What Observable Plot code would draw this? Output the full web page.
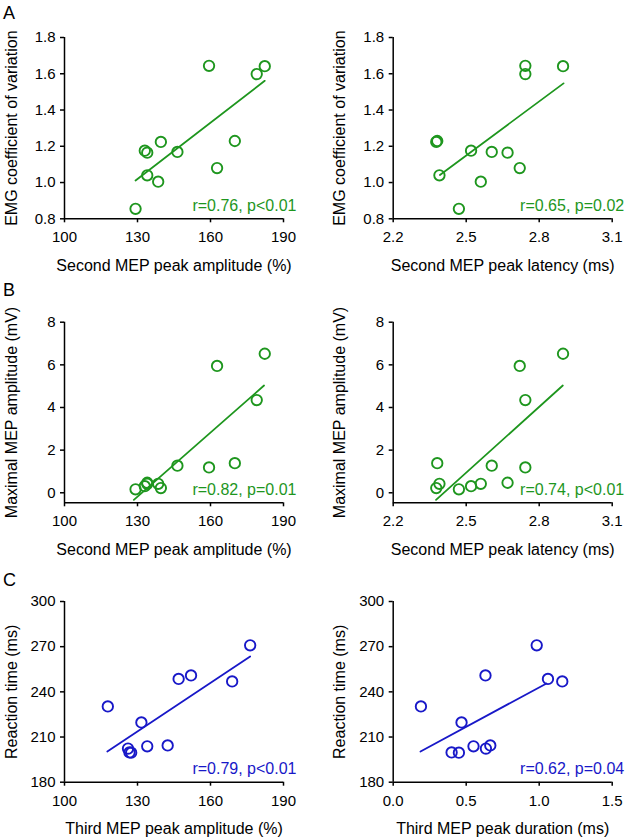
<!DOCTYPE html>
<html>
<head>
<meta charset="utf-8">
<script src="https://cdn.jsdelivr.net/npm/d3@7"></script>
<script src="https://cdn.jsdelivr.net/npm/@observablehq/plot@0.6"></script>
<style>
  html, body { margin: 0; padding: 0; background: #fff; }
  #fig { position: relative; width: 625px; height: 837px; overflow: hidden; font-family: "Liberation Sans", Arial, sans-serif; }
  #fig > svg { position: absolute; }
  .lbl { position: absolute; font-size: 18px; line-height: 18px; color: #000; }
</style>
</head>
<body>
<div id="fig"></div>
<script>
// ---- Data: 12 subjects (panels A, B) ----
const amp2   = [129.2, 134, 138.5, 133, 134, 139.6, 146.4, 159.4, 162.7, 170, 179, 182.3]; // Second MEP peak amplitude (%)
const lat2   = [2.47, 2.39, 2.56, 2.52, 2.67, 2.377, 2.605, 2.743, 2.72, 2.381, 2.743, 2.898]; // Second MEP peak latency (ms)
const emgCV  = [0.855, 1.04, 1.005, 1.176, 1.165, 1.224, 1.169, 1.644, 1.08, 1.229, 1.598, 1.642]; // EMG coefficient of variation
const maxMEP = [0.16, 0.42, 0.42, 0.31, 0.47, 0.22, 1.27, 1.19, 5.95, 1.39, 4.35, 6.52]; // Maximal MEP amplitude (mV)

// ---- Data: 11 subjects (panel C) ----
const amp3 = [117.8, 126.1, 126.7, 127.4, 131.6, 134, 142.4, 146.9, 152, 168.9, 176.3]; // Third MEP peak amplitude (%)
const dur3 = [0.19, 0.635, 0.40, 0.45, 0.468, 0.55, 0.665, 1.06, 0.632, 1.158, 0.983]; // Third MEP peak duration (ms)
const rt   = [230.3, 202.3, 199.8, 199.6, 219.7, 203.8, 204.4, 248.6, 250.9, 246.9, 270.9]; // Reaction time (ms)

// ---- Regression lines (endpoints) ----
const fitA1 = {x: [129.2, 182.3], y: [1.011, 1.561]};
const fitA2 = {x: [2.392, 2.900], y: [1.042, 1.547]};
const fitB1 = {x: [128.5, 182.0], y: [-0.33, 5.03]};
const fitB2 = {x: [2.376, 2.897], y: [-0.33, 5.03]};
const fitC1 = {x: [117.6, 176.3], y: [200.4, 263.5]};
const fitC2 = {x: [0.187, 1.05], y: [200.4, 245.6]};

// ---- Statistics text ----
const stats = ["r=0.76, p<0.01", "r=0.65, p=0.02", "r=0.82, p=0.01", "r=0.74, p<0.01", "r=0.79, p<0.01", "r=0.62, p=0.04"];

// ---- Axis ticks & labels ----
const ticksAmp = [100, 130, 160, 190];
const ticksLat = [2.2, 2.5, 2.8, 3.1];
const ticksDur = [0.0, 0.5, 1.0, 1.5];
const ticksCV  = [0.8, 1.0, 1.2, 1.4, 1.6, 1.8];
const ticksMEP = [0, 2, 4, 6, 8];
const ticksRT  = [180, 210, 240, 270, 300];
const panelLetters = ["A", "B", "C"];

const GREEN = "#1e961e";
const BLUE = "#1818c8";

const fig = document.getElementById("fig");
const f1 = d3.format(".1f");

function toRows(xs, ys) { return xs.map((x, i) => ({x, y: ys[i]})); }

function panel(o) {
  const xDomain = [o.xTicks[0], o.xTicks[o.xTicks.length - 1]];
  const yDomain = [o.yMin ?? o.yTicks[0], o.yTicks[o.yTicks.length - 1]];
  const pts = toRows(o.xs, o.ys);
  const fit = toRows(o.fit.x, o.fit.y);
  const svg = Plot.plot({
    width: o.width, height: o.height,
    marginLeft: o.ml, marginRight: o.mr, marginTop: o.mt, marginBottom: o.mb,
    x: {domain: xDomain},
    y: {domain: yDomain},
    style: {fontFamily: "'Liberation Sans', Arial, sans-serif", fontSize: "15px", color: "#000", background: "transparent", overflow: "visible"},
    marks: [
      Plot.axisX({ticks: o.xTicks, tickFormat: o.xFmt, tickSize: 4, tickPadding: 9, strokeWidth: 1.5, fontSize: 15,
                  label: null}),
      Plot.axisY({ticks: o.yTicks, tickFormat: o.yFmt, tickSize: 4, tickPadding: 5, strokeWidth: 1.5, fontSize: 15,
                  label: null}),
      Plot.ruleX([xDomain[0]], {stroke: "#000", strokeWidth: 1.5}),
      Plot.ruleY([yDomain[0]], {stroke: "#000", strokeWidth: 1.5}),
      Plot.text([o.xLabel], {frameAnchor: "bottom", dy: 47, lineAnchor: "middle", fontSize: 16, fill: "#000"}),
      Plot.text([o.yLabel], {frameAnchor: "left", dx: -53, rotate: -90, lineAnchor: "middle", textAnchor: "middle", fontSize: 16, fill: "#000"}),
      Plot.line(fit, {x: "x", y: "y", stroke: o.color, strokeWidth: 1.8}),
      Plot.dot(pts, {x: "x", y: "y", r: 5.2, stroke: o.color, strokeWidth: 1.9, fill: "none"}),
      Plot.text([o.stat], {frameAnchor: "bottom-right", dx: o.sdx, dy: -13, textAnchor: "end", lineAnchor: "middle", fontSize: 16, fill: o.color})
    ]
  });
  svg.style.left = o.left + "px";
  svg.style.top = o.top + "px";
  fig.appendChild(svg);
}

const rows = [
  {top: 0,   height: 280, mt: 37,   mb: 61.7},
  {top: 280, height: 280, mt: 41.7, mb: 57.7},
  {top: 560, height: 277, mt: 41,   mb: 55.3}
];
const cols = [
  {left: 0,   width: 310, ml: 64,   mr: 27,   sdx: 13},
  {left: 310, width: 315, ml: 82.7, mr: 13.3, sdx: 12}
];

const specs = [
  {r: 0, c: 0, xs: amp2, ys: emgCV, xTicks: ticksAmp, yTicks: ticksCV, yFmt: f1, fit: fitA1, stat: stats[0], color: GREEN,
   xLabel: "Second MEP peak amplitude (%)", yLabel: "EMG coefficient of variation"},
  {r: 0, c: 1, xs: lat2, ys: emgCV, xTicks: ticksLat, xFmt: f1, yTicks: ticksCV, yFmt: f1, fit: fitA2, stat: stats[1], color: GREEN,
   xLabel: "Second MEP peak latency (ms)", yLabel: "EMG coefficient of variation"},
  {r: 1, c: 0, xs: amp2, ys: maxMEP, xTicks: ticksAmp, yTicks: ticksMEP, yMin: -0.47, fit: fitB1, stat: stats[2], color: GREEN,
   xLabel: "Second MEP peak amplitude (%)", yLabel: "Maximal MEP amplitude (mV)"},
  {r: 1, c: 1, xs: lat2, ys: maxMEP, xTicks: ticksLat, xFmt: f1, yTicks: ticksMEP, yMin: -0.47, fit: fitB2, stat: stats[3], color: GREEN,
   xLabel: "Second MEP peak latency (ms)", yLabel: "Maximal MEP amplitude (mV)"},
  {r: 2, c: 0, xs: amp3, ys: rt, xTicks: ticksAmp, yTicks: ticksRT, fit: fitC1, stat: stats[4], color: BLUE,
   xLabel: "Third MEP peak amplitude (%)", yLabel: "Reaction time (ms)"},
  {r: 2, c: 1, xs: dur3, ys: rt, xTicks: ticksDur, xFmt: f1, yTicks: ticksRT, fit: fitC2, stat: stats[5], color: BLUE,
   xLabel: "Third MEP peak duration (ms)", yLabel: "Reaction time (ms)"}
];

for (const s of specs) {
  panel({...s, ...rows[s.r], ...cols[s.c]});
}

const letterTops = [3.5, 280.5, 571];
panelLetters.forEach((L, i) => {
  const d = document.createElement("div");
  d.className = "lbl";
  d.textContent = L;
  d.style.left = "3px";
  d.style.top = letterTops[i] + "px";
  fig.appendChild(d);
});
</script>
</body>
</html>
